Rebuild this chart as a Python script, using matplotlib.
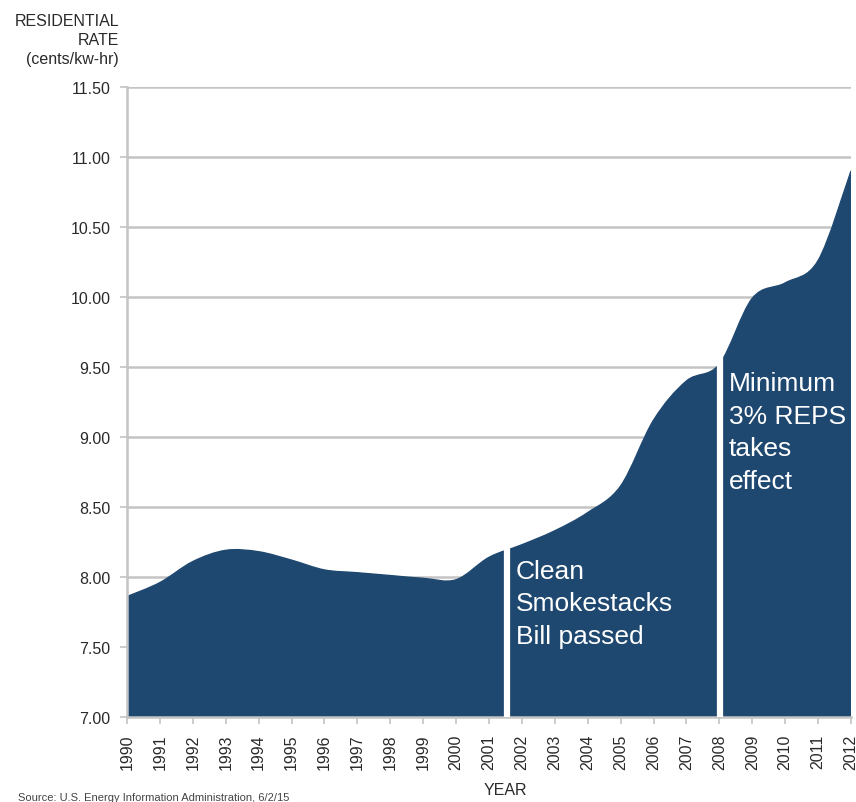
import numpy as np
import matplotlib
matplotlib.use("Agg")
import matplotlib.pyplot as plt
from matplotlib.path import Path
from matplotlib.patches import PathPatch

plt.rcParams['font.family'] = ['Liberation Sans', 'DejaVu Sans']

years = list(range(1990, 2013))
rates = [7.86, 7.96, 8.11, 8.19, 8.18, 8.12, 8.05, 8.03, 8.01, 7.99, 7.98,
         8.14, 8.23, 8.33, 8.46, 8.65, 9.12, 9.40, 9.52, 9.99, 10.10, 10.26, 10.90]

events_x = [2001.54, 2008.01]
events_top = [8.22, 9.6]
event_labels = ["Clean\nSmokestacks\nBill passed", "Minimum\n3% REPS\ntakes\neffect"]
event_label_y = [8.13, 9.47]

yticks = [7.0, 7.5, 8.0, 8.5, 9.0, 9.5, 10.0, 10.5, 11.0, 11.5]

FILL = "#1f4870"
GRID = "#c4c4c4"


def smooth_area_path(x, y, base):
    """Catmull-Rom style bezier through the points, closed down to the baseline."""
    x = np.asarray(x, float)
    y = np.asarray(y, float)
    verts = [(x[0], base), (x[0], y[0])]
    codes = [Path.MOVETO, Path.LINETO]
    n = len(x)
    for i in range(n - 1):
        p0 = (x[i - 1], y[i - 1]) if i > 0 else (x[i], y[i])
        p1 = (x[i], y[i])
        p2 = (x[i + 1], y[i + 1])
        p3 = (x[i + 2], y[i + 2]) if i + 2 < n else p2
        c1 = (p1[0] + (p2[0] - p0[0]) / 6, p1[1] + (p2[1] - p0[1]) / 6)
        c2 = (p2[0] - (p3[0] - p1[0]) / 6, p2[1] - (p3[1] - p1[1]) / 6)
        verts += [c1, c2, p2]
        codes += [Path.CURVE4] * 3
    verts += [(x[-1], base), (x[0], base)]
    codes += [Path.LINETO, Path.CLOSEPOLY]
    return Path(verts, codes)


fig = plt.figure(figsize=(8.56, 8.03), dpi=100)
ax = fig.add_axes([0.1484, 0.1059, 0.8458, 0.7846])

ax.set_xlim(years[0], years[-1])
ax.set_ylim(7.0, 11.5)
ax.set_yticks(yticks)
ax.set_yticklabels([f"{v:.2f}" for v in yticks], fontsize=11.5)
ax.set_xticks(years)
ax.set_xticklabels([str(y) for y in years], rotation=90, fontsize=11.5)
ax.grid(axis='y', color=GRID, lw=1.8)
ax.set_axisbelow(True)

ax.add_patch(PathPatch(smooth_area_path(years, rates, 7.0), facecolor=FILL,
                       edgecolor=FILL, lw=1, zorder=2))

ax.vlines(events_x, 7.0, events_top, colors="white", lw=4.5, zorder=3)
for ex, lab, ly in zip(events_x, event_labels, event_label_y):
    ax.text(ex + 0.27, ly, lab, color="white", fontsize=19, va='top',
            ha='left', linespacing=1.45, zorder=4)

for s in ['top', 'right']:
    ax.spines[s].set_visible(False)
for s in ['left', 'bottom']:
    ax.spines[s].set_color(GRID)
    ax.spines[s].set_linewidth(1.8)
ax.tick_params(axis='both', colors=GRID, labelcolor="#2a2a2a", length=5, width=1.2)
ax.tick_params(axis='y', pad=7)
ax.tick_params(axis='x', pad=7)

fig.text(0.139, 0.983, "RESIDENTIAL\nRATE\n(cents/kw-hr)", ha='right', va='top',
         fontsize=11.5, color="#2a2a2a", linespacing=1.35)
fig.text(0.590, 0.006, "YEAR", ha='center', va='bottom', fontsize=11.5, color="#2a2a2a")
fig.text(0.021, 0.0, "Source: U.S. Energy Information Administration, 6/2/15",
         ha='left', va='bottom', fontsize=8, color="#444444")

fig.savefig("out.png", dpi=100)
